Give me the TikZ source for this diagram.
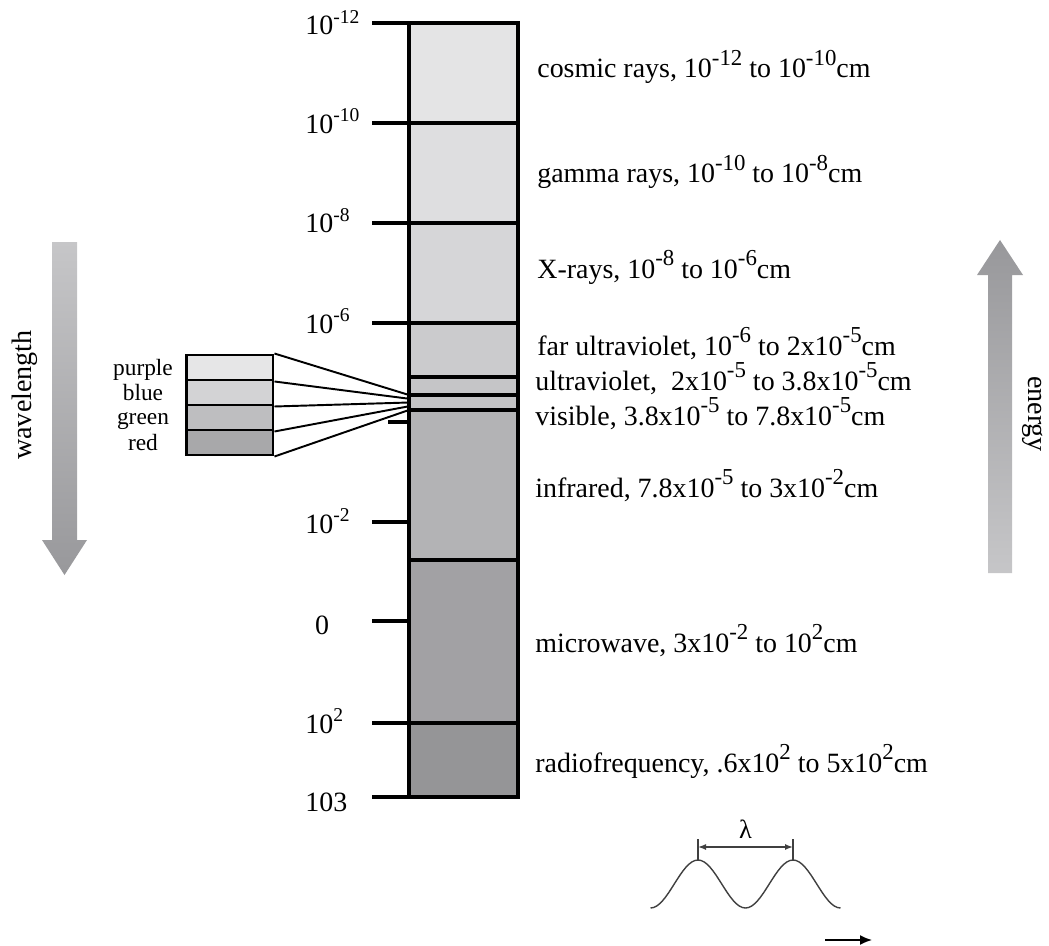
\documentclass[tikz,border=0pt]{standalone}
\usepackage{fontspec}
\setmainfont{Liberation Serif}
\usepackage{xcolor}
\usetikzlibrary{arrows.meta}

\definecolor{bandA}{HTML}{E4E4E5}
\definecolor{bandB}{HTML}{DEDEE0}
\definecolor{bandC}{HTML}{D6D6D8}
\definecolor{bandD}{HTML}{CBCBCD}
\definecolor{bandE}{HTML}{C5C5C7}
\definecolor{bandF}{HTML}{C3C3C5}
\definecolor{bandG}{HTML}{B3B3B5}
\definecolor{bandH}{HTML}{A2A1A4}
\definecolor{bandI}{HTML}{959597}
\definecolor{swpurple}{HTML}{E6E6E7}
\definecolor{swblue}{HTML}{D3D3D5}
\definecolor{swgreen}{HTML}{BEBEC0}
\definecolor{swred}{HTML}{A8A8AA}
\definecolor{arrowlight}{HTML}{C6C6C8}
\definecolor{arrowdark}{HTML}{98989B}

% exponent as the figure prints it
\newcommand{\ex}[1]{\raisebox{0.45em}{\fontsize{13}{13}\selectfont #1}}

\begin{document}
\begin{tikzpicture}[x=0.02cm,y=-0.02cm,
          every node/.style={inner sep=0pt,font=\fontsize{15.9}{19}\selectfont},
          bar/.style={line width=1.8pt},
          tick/.style={line width=1.8pt},
          fan/.style={line width=1.1pt},
          swatch/.style={draw,line width=1.7pt,minimum width=1.74cm,minimum height=0.5cm},
          swlabel/.style={anchor=base,font=\fontsize{13.3}{15}\selectfont},
          rlabel/.style={anchor=base west},
          llabel/.style={anchor=base west},
          wave/.style={black!75,line width=0.8pt},
        ]
        \useasboundingbox (0,0) rectangle (1049,946);
        % column
        \foreach \ya/\yb/\col in {23/123/bandA, 123/223/bandB, 223/323/bandC, 323/377/bandD,
                                  377/395/bandE, 395/410/bandF, 410/560/bandG, 560/723/bandH, 723/797/bandI} {
          \fill[\col] (409,\ya) rectangle (518,\yb);
        }
        \foreach \y in {123, 223, 323, 377, 410, 560, 723} {
          \draw[bar] (409,\y) -- (518,\y);
        }
        \draw[line width=2.8pt] (409,395) -- (518,395);
        \draw[bar] (409,23) rectangle (518,797);
        \foreach \y in {23, 123, 223, 323, 522, 621, 723, 797} {
          \draw[tick] (372,\y) -- (409,\y);
        }
        \draw[tick] (388,422) -- (409,422);
        % scale
        \node[llabel] (s12) at (305,35) {10\textsuperscript{-12}};
        \node[llabel] (s10) at (305,133) {10\textsuperscript{-10}};
        \node[llabel] (s8) at (305,233) {10\textsuperscript{-8}};
        \node[llabel] (s6) at (305,333) {10\textsuperscript{-6}};
        \node[llabel] (s2) at (305,533) {10\textsuperscript{-2}};
        \node[anchor=base] (s0) at (322,634) {0};
        \node[llabel] (p2) at (305,733) {10\textsuperscript{2}};
        \node[llabel] (p3) at (305,811) {103};
        % regions
        \node[rlabel] (cosmic) at (537,78) {cosmic rays, 10\ex{-12} to 10\ex{-10}cm};
        \node[rlabel] (gamma) at (537,183) {gamma rays, 10\ex{-10} to 10\ex{-8}cm};
        \node[rlabel] (xray) at (537,278) {X-rays, 10\ex{-8} to 10\ex{-6}cm};
        \node[rlabel] (faruv) at (537,355) {far ultraviolet, 10\ex{-6} to 2x10\ex{-5}cm};
        \node[rlabel] (uv) at (535,390) {ultraviolet,\ \ 2x10\ex{-5} to 3.8x10\ex{-5}cm};
        \node[rlabel] (vis) at (535,425) {visible, 3.8x10\ex{-5} to 7.8x10\ex{-5}cm};
        \node[rlabel] (ir) at (535,497) {infrared, 7.8x10\ex{-5} to 3x10\ex{-2}cm};
        \node[rlabel] (micro) at (535,652) {microwave, 3x10\ex{-2} to 10\ex{2}cm};
        \node[rlabel] (radio) at (535,772) {radiofrequency, .6x10\ex{2} to 5x10\ex{2}cm};
        % visible colours
        \node[swatch,fill=swpurple] (purple) at (229.5,367.5) {};
        \node[swatch,fill=swblue] (blue) at (229.5,392.5) {};
        \node[swatch,fill=swgreen] (green) at (229.5,417.5) {};
        \node[swatch,fill=swred] (red) at (229.5,442.5) {};
        \node[swlabel] (lpurple) at (143,375) {purple};
        \node[swlabel] (lblue) at (143,400) {blue};
        \node[swlabel] (lgreen) at (143,424) {green};
        \node[swlabel] (lred) at (143,450) {red};
        \foreach \i/\y in {0/395, 1/398.75, 2/402.5, 3/406.25, 4/410} {
          \coordinate (v\i) at (409,\y);
        }
        \draw[fan] (purple.north east) -- (v0);
        \draw[fan] (purple.south east) -- (v1);
        \draw[fan] (blue.south east) -- (v2);
        \draw[fan] (green.south east) -- (v3);
        \draw[fan] (red.south east) -- (v4);
        % arrows
        \shade[top color=arrowlight,bottom color=arrowdark] (52,242) -- (77,242) -- (77,540) -- (87,540)
          -- (64.5,575) -- (42,540) -- (52,540) -- cycle;
        \node[rotate=90,font=\fontsize{16}{19}\selectfont] (wl) at (25,395) {wavelength};
        \shade[top color=arrowdark,bottom color=arrowlight] (1000,240) -- (1023,275) -- (1012,275) -- (1012,573)
          -- (988,573) -- (988,275) -- (977,275) -- cycle;
        \node[rotate=-90,font=\fontsize{16}{19}\selectfont] (en) at (1033,414) {energy};
        % wave
        \draw[wave] (650.5,908) cos (674.25,884) sin (698,860) cos (721.75,884) sin (745.5,908)
          cos (769.25,884) sin (793,860) cos (816.75,884) sin (840.5,908);
        \coordinate (pk1) at (698,860);
        \coordinate (pk2) at (793,860);
        \coordinate (tk1) at (698,839);
        \coordinate (tk2) at (793,839);
        \draw[wave] (pk1) -- (tk1);
        \draw[wave] (pk2) -- (tk2);
        \draw[wave,{Latex[length=1.6mm,width=1.2mm]}-{Latex[length=1.6mm,width=1.2mm]}] ([yshift=-0.16cm]tk1) -- ([yshift=-0.16cm]tk2);
        \node[font=\fontsize{15}{18}\selectfont] (lam) at (745.5,829) {λ};
        \coordinate (da) at (825,940);
        \coordinate (db) at (872,940);
        \draw[line width=0.9pt,-{Latex[length=2.4mm,width=2mm]}] (da) -- (db);
      \end{tikzpicture}
\end{document}
